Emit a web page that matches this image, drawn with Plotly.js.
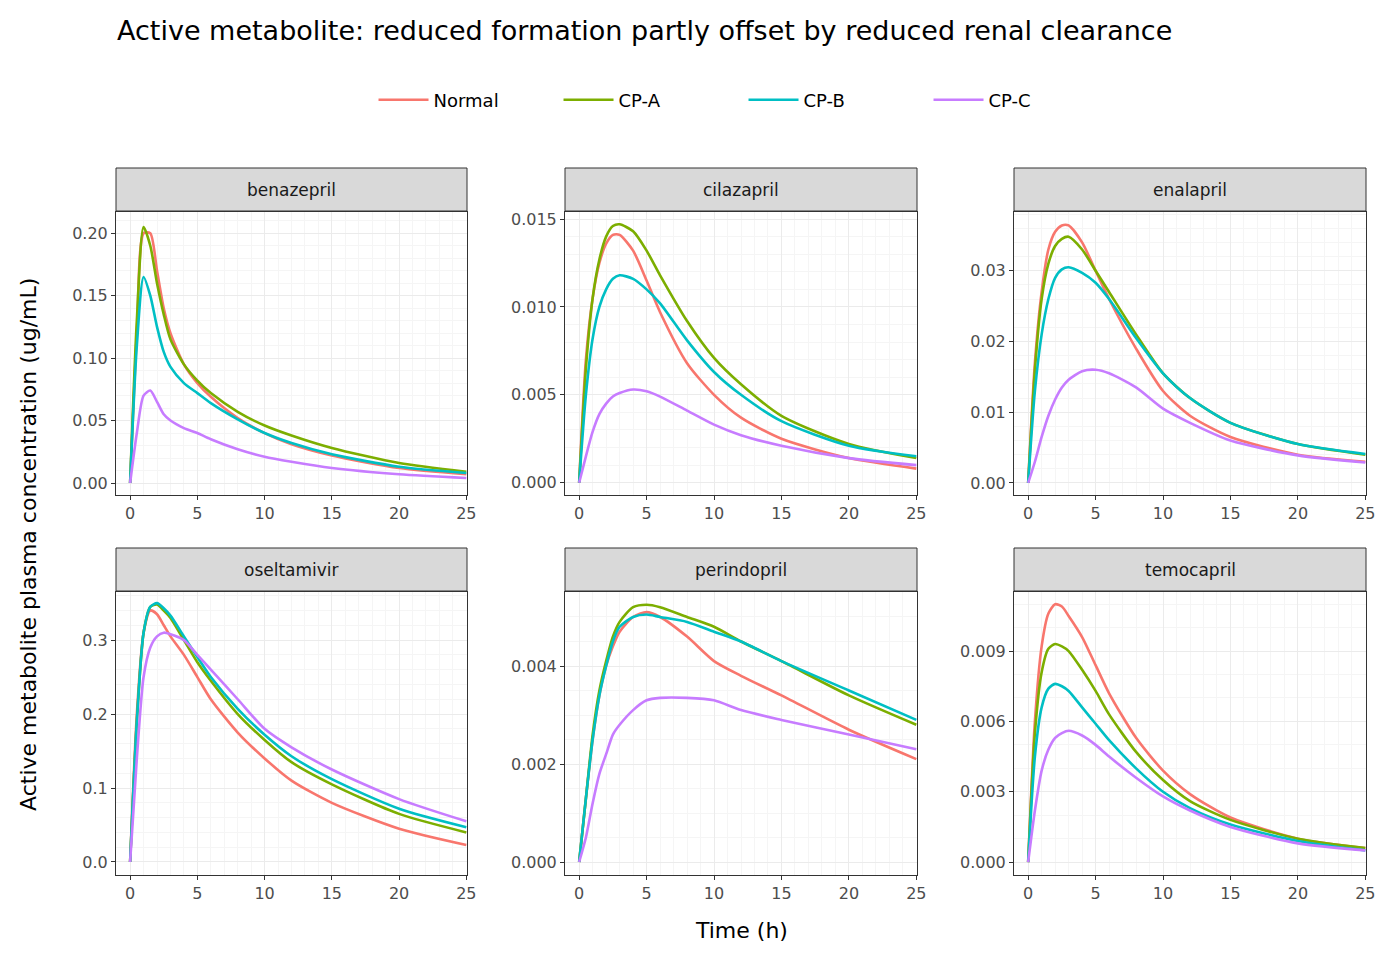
<!DOCTYPE html>
<html>
<head>
<meta charset="utf-8">
<script src="https://cdn.plot.ly/plotly-3.0.1.min.js"></script>
<style>body{margin:0;overflow:hidden}</style>
</head>
<body>
<div id="chart" style="width:1382px;height:960px"></div>
<script>
const drugs = ['benazepril', 'cilazapril', 'enalapril', 'oseltamivir', 'perindopril', 'temocapril'];
const groups = ['Normal', 'CP-A', 'CP-B', 'CP-C'];
const colors = ['#F8766D', '#7CAE00', '#00BFC4', '#C77CFF'];
const times = [0, 0.5, 1, 1.5, 2, 2.5, 3, 4, 5, 6, 8, 10, 12, 15, 20, 25];

const benazepril = [
  [0, 0.12, 0.2, 0.2, 0.17, 0.14, 0.12, 0.095, 0.08, 0.069, 0.052, 0.04, 0.031, 0.022, 0.012, 0.007],
  [0, 0.13, 0.205, 0.19, 0.16, 0.135, 0.115, 0.095, 0.082, 0.072, 0.057, 0.046, 0.038, 0.028, 0.016, 0.009],
  [0, 0.11, 0.165, 0.15, 0.125, 0.105, 0.093, 0.08, 0.072, 0.064, 0.051, 0.04, 0.032, 0.023, 0.013, 0.008],
  [0, 0.04, 0.07, 0.074, 0.065, 0.055, 0.05, 0.044, 0.04, 0.035, 0.027, 0.021, 0.017, 0.012, 0.007, 0.004]
];
const cilazapril = [
  [0, 0.007, 0.0105, 0.0125, 0.0136, 0.0141, 0.0141, 0.0132, 0.0115, 0.0097, 0.0068, 0.005, 0.0037, 0.0025, 0.0014, 0.0008],
  [0, 0.0065, 0.0105, 0.0127, 0.014, 0.0146, 0.0147, 0.0143, 0.0132, 0.0118, 0.0092, 0.0071, 0.0056, 0.0038, 0.0022, 0.0014],
  [0, 0.005, 0.0082, 0.01, 0.011, 0.0116, 0.0118, 0.0116, 0.011, 0.0102, 0.0081, 0.0063, 0.005, 0.0035, 0.0021, 0.0015],
  [0, 0.0015, 0.0029, 0.0039, 0.0045, 0.0049, 0.0051, 0.0053, 0.0052, 0.0049, 0.0041, 0.0033, 0.0027, 0.0021, 0.0014, 0.001]
];
const enalapril = [
  [0, 0.017, 0.027, 0.033, 0.0355, 0.0364, 0.0364, 0.034, 0.03, 0.026, 0.019, 0.013, 0.0095, 0.0065, 0.004, 0.003],
  [0, 0.016, 0.026, 0.031, 0.0335, 0.0345, 0.0348, 0.033, 0.03, 0.027, 0.021, 0.0155, 0.012, 0.0085, 0.0055, 0.004],
  [0, 0.013, 0.021, 0.026, 0.029, 0.0302, 0.0305, 0.0297, 0.0283, 0.026, 0.0205, 0.0155, 0.012, 0.0085, 0.0055, 0.0041],
  [0, 0.003, 0.0065, 0.0095, 0.0118, 0.0135, 0.0146, 0.0158, 0.016, 0.0155, 0.0135, 0.0105, 0.0085, 0.006, 0.0039, 0.0029]
];
const oseltamivir = [
  [0, 0.2, 0.31, 0.34, 0.335, 0.32, 0.305, 0.28, 0.25, 0.22, 0.175, 0.14, 0.11, 0.08, 0.045, 0.023],
  [0, 0.19, 0.31, 0.345, 0.348, 0.34, 0.33, 0.3, 0.27, 0.245, 0.2, 0.165, 0.135, 0.105, 0.065, 0.04],
  [0, 0.19, 0.31, 0.345, 0.35, 0.343, 0.333, 0.305, 0.277, 0.25, 0.207, 0.172, 0.143, 0.112, 0.072, 0.047],
  [0, 0.14, 0.25, 0.29, 0.305, 0.31, 0.308, 0.3, 0.28, 0.26, 0.22, 0.18, 0.155, 0.125, 0.085, 0.055]
];
const perindopril = [
  [0, 0.0013, 0.0025, 0.0034, 0.004, 0.0044, 0.0047, 0.005, 0.0051, 0.005, 0.0046, 0.0041, 0.0038, 0.0034, 0.0027, 0.0021],
  [0, 0.0013, 0.0026, 0.0035, 0.0041, 0.0046, 0.0049, 0.0052, 0.00525, 0.0052, 0.005, 0.0048, 0.0045, 0.0041, 0.0034, 0.0028],
  [0, 0.0013, 0.0025, 0.0034, 0.004, 0.0045, 0.0048, 0.005, 0.00505, 0.005, 0.0049, 0.0047, 0.0045, 0.0041, 0.0035, 0.0029],
  [0, 0.0005, 0.0012, 0.0018, 0.0022, 0.0026, 0.0028, 0.0031, 0.0033, 0.00335, 0.00335, 0.0033, 0.0031, 0.0029, 0.0026, 0.0023]
];
const temocapril = [
  [0, 0.006, 0.0092, 0.0106, 0.011, 0.0109, 0.0105, 0.0096, 0.0084, 0.0072, 0.0053, 0.0039, 0.0029, 0.0019, 0.001, 0.0006],
  [0, 0.0055, 0.0081, 0.0091, 0.0093, 0.0092, 0.009, 0.0082, 0.0073, 0.0063, 0.0047, 0.0035, 0.0026, 0.0018, 0.001, 0.0006],
  [0, 0.0045, 0.0066, 0.0074, 0.0076, 0.0075, 0.0073, 0.0066, 0.0059, 0.0052, 0.004, 0.003, 0.0023, 0.0016, 0.0009, 0.0005],
  [0, 0.0022, 0.0039, 0.0048, 0.0053, 0.0055, 0.0056, 0.0054, 0.005, 0.0045, 0.0036, 0.0028, 0.0022, 0.0015, 0.0008, 0.0005]
];
const series = [benazepril, cilazapril, enalapril, oseltamivir, perindopril, temocapril];
const yRanges = [[-0.0096, 0.217], [-0.0007, 0.0154], [-0.0017, 0.0383], [-0.0176, 0.365], [-0.000265, 0.00551], [-0.00055, 0.01152]];
const yDtick = [0.05, 0.005, 0.01, 0.1, 0.002, 0.003];
const yFormat = ['.2f', '.3f', '.2f', '.1f', '.3f', '.3f'];

const W = 1382, H = 960;
const colX = [[116, 467], [565, 917], [1014, 1366]];
const rowY = [[212, 495], [592, 875]];

const traces = [];
const layout = {
  width: W, height: H,
  margin: {l: 0, r: 0, t: 0, b: 0},
  paper_bgcolor: 'white', plot_bgcolor: 'white',
  font: {family: 'DejaVu Sans', color: '#000'},
  showlegend: true,
  legend: {orientation: 'h', x: 0.538, xanchor: 'center', y: 1 - 100 / H, yanchor: 'middle',
           font: {size: 18}, traceorder: 'normal', itemwidth: 50, entrywidth: 120},
  shapes: [], annotations: []
};

drugs.forEach((drug, i) => {
  const c = i % 3, r = Math.floor(i / 3);
  const n = i === 0 ? '' : String(i + 1);
  const [x0, x1] = colX[c], [y0, y1] = rowY[r];
  const axStyle = {
    showline: true, mirror: true, linecolor: '#333', linewidth: 1,
    gridcolor: '#ebebeb', gridwidth: 1.3, zeroline: false,
    ticks: 'outside', ticklen: 4, tickcolor: '#333',
    tickfont: {size: 16, color: '#4d4d4d'},
    minor: {showgrid: true, gridcolor: '#f5f5f5', gridwidth: 0.8}
  };
  layout['xaxis' + n] = Object.assign({}, axStyle, {
    domain: [x0 / W, x1 / W], anchor: 'y' + n, range: [-1.05, 25.05], dtick: 5, tick0: 0
  });
  layout['yaxis' + n] = Object.assign({}, axStyle, {
    domain: [1 - y1 / H, 1 - y0 / H], anchor: 'x' + n, range: yRanges[i], dtick: yDtick[i], tick0: 0,
    tickformat: yFormat[i]
  });
  layout.shapes.push({type: 'rect', xref: 'paper', yref: 'paper',
    x0: x0 / W, x1: x1 / W, y0: 1 - (y0 - 1) / H, y1: 1 - (y0 - 44) / H,
    fillcolor: '#d9d9d9', line: {color: '#333', width: 1}});
  layout.annotations.push({text: drug, xref: 'paper', yref: 'paper', showarrow: false,
    x: (x0 + x1) / 2 / W, y: 1 - (y0 - 22) / H, xanchor: 'center', yanchor: 'middle',
    font: {size: 17, color: '#1a1a1a'}});
  series[i].forEach((vals, g) => {
    traces.push({
      x: times, y: vals, type: 'scatter', mode: 'lines',
      line: {color: colors[g], width: 2.6, shape: 'spline', smoothing: 0.7},
      name: groups[g], legendgroup: groups[g], showlegend: i === 0,
      xaxis: 'x' + n, yaxis: 'y' + n, hoverinfo: 'skip'
    });
  });
});

layout.annotations.push(
  {text: 'Active metabolite: reduced formation partly offset by reduced renal clearance', xref: 'paper', yref: 'paper',
   x: 115 / W, y: 1 - 30 / H, xanchor: 'left', yanchor: 'middle', showarrow: false, font: {size: 27}},
  {text: 'Time (h)', xref: 'paper', yref: 'paper', x: 741 / W, y: 1 - 930 / H,
   xanchor: 'center', yanchor: 'middle', showarrow: false, font: {size: 22}},
  {text: 'Active metabolite plasma concentration (ug/mL)', xref: 'paper', yref: 'paper',
   x: 28 / W, y: 1 - 545 / H, xanchor: 'center', yanchor: 'middle', textangle: -90, showarrow: false, font: {size: 22}}
);

Plotly.newPlot('chart', traces, layout, {displayModeBar: false});
</script>
</body>
</html>
